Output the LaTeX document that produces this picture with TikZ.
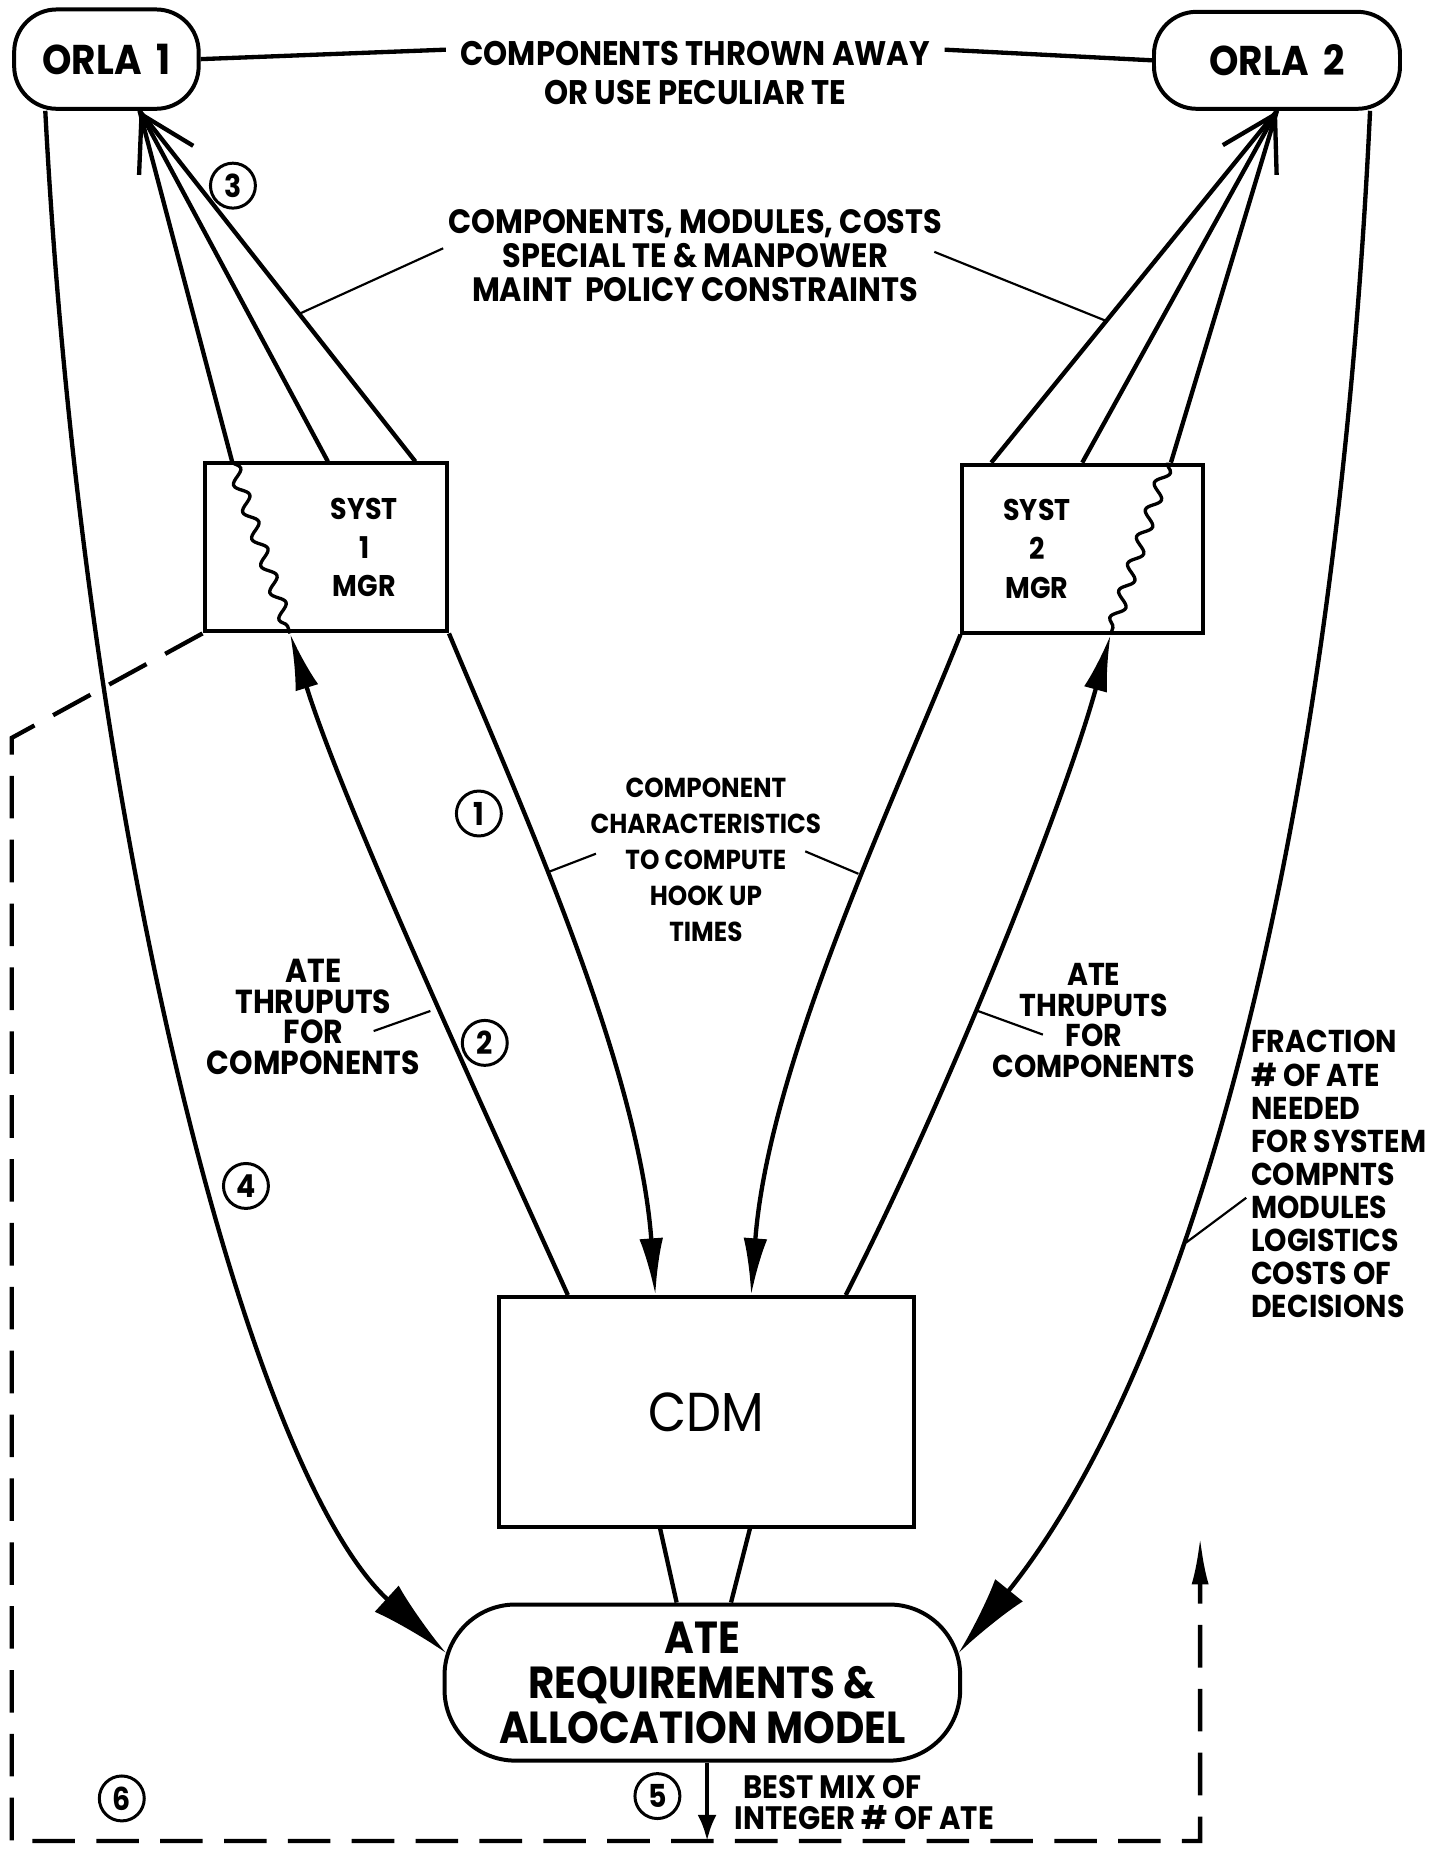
\documentclass[tikz,border=0pt]{standalone}
\usepackage{fontspec}
\setmainfont{Poppins}[FakeStretch=0.9]
\usetikzlibrary{arrows.meta,decorations.pathmorphing,calc}
\begin{document}
\begin{tikzpicture}[x=0.025cm,y=-0.025cm,
  conn/.style={line width=2.6pt},
  lead/.style={line width=1.3pt},
  boxs/.style={draw,line width=2.4pt,inner sep=0pt},
  num/.style={draw,circle,line width=1.8pt,minimum size=0.95cm,inner sep=0pt,font=\bfseries\fontsize{19}{19}\selectfont},
  lbl/.style={align=center,inner sep=0pt},
  ftip/.style={-{Latex[length=1.2cm,width=0.5cm]}},
  btip/.style={-{Latex[length=1.7cm,width=0.75cm]}},
  barb/.style={-{Straight Barb[length=1.1cm,width=1.3cm]}},
  wave/.style={line width=2pt,decorate,decoration={snake,amplitude=0.13cm,segment length=0.6cm}},
  dsh/.style={line width=2.6pt,dash pattern=on 0.9cm off 0.45cm}
]
\fill[white] (0,0) rectangle (1220,1568);
\useasboundingbox (0,0) rectangle (1220,1568);

% boxes
\node[boxs,rounded corners=0.9cm,minimum width=3.9cm,minimum height=2.1cm,font=\bfseries\fontsize{25}{25}\selectfont] (orla1) at (90,50) {ORLA\hspace{0.35em}1};
\node[boxs,rounded corners=0.9cm,minimum width=5.2cm,minimum height=2.05cm,font=\bfseries\fontsize{25}{25}\selectfont] (orla2) at (1080,51) {ORLA\hspace{0.35em}2};
\node[boxs,minimum width=5.125cm,minimum height=3.55cm] (syst1) at (275.5,463) {};
\node[lbl,font=\bfseries\fontsize{18}{23.4}\selectfont] (s1t) at (308,463) {SYST\\1\\MGR};
\node[boxs,minimum width=5.075cm,minimum height=3.55cm] (syst2) at (915.5,464) {};
\node[lbl,font=\bfseries\fontsize{18}{23.4}\selectfont] (s2t) at (877,464) {SYST\\2\\MGR};
\node[boxs,minimum width=8.775cm,minimum height=4.85cm,font=\fontsize{33}{33}\selectfont] (cdm) at (597.5,1194) {CDM};
\node[boxs,rounded corners=1.5cm,minimum width=10.9cm,minimum height=3.3cm,align=center,font=\bfseries\fontsize{27}{27}\selectfont] (ate) at (594,1423) {ATE\\REQUIREMENTS \&\\ALLOCATION MODEL};

% labels
\node[lbl,font=\bfseries\fontsize{20.5}{23.5}\selectfont] (t1a) at (588,45) {COMPONENTS THROWN AWAY};
\node[lbl,font=\bfseries\fontsize{20.5}{23.5}\selectfont] (t1b) at (588,78) {OR USE PECULIAR TE};
\node[lbl,font=\bfseries\fontsize{20.3}{20.6}\selectfont] (t2) at (588,216) {COMPONENTS, MODULES, COSTS\\SPECIAL TE \& MANPOWER\\MAINT\ \ POLICY CONSTRAINTS};
\node[lbl,font=\bfseries\fontsize{16.5}{21.7}\selectfont] (t3) at (597,727) {COMPONENT\\CHARACTERISTICS\\TO COMPUTE\\HOOK UP\\TIMES};
\node[lbl,font=\bfseries\fontsize{20}{18.3}\selectfont] (t4) at (265,860) {ATE\\THRUPUTS\\FOR\\COMPONENTS};
\node[lbl,font=\bfseries\fontsize{19}{18.3}\selectfont] (t5) at (925,863) {ATE\\THRUPUTS\\FOR\\COMPONENTS};
\node[lbl,align=left,anchor=west,font=\bfseries\fontsize{19}{19.9}\selectfont] (t6) at (1058,993) {FRACTION\\\# OF ATE\\NEEDED\\FOR SYSTEM\\COMPNTS\\MODULES\\LOGISTICS\\COSTS OF\\DECISIONS};
\node[lbl,font=\bfseries\fontsize{19.5}{19.5}\selectfont] (t7a) at (704,1511) {BEST MIX OF};
\node[lbl,font=\bfseries\fontsize{19.5}{19.5}\selectfont] (t7b) at (731,1537) {INTEGER \# OF ATE};

% numbers
\node[num] (n1) at (405,688) {1};
\node[num] (n2) at (410,882) {2};
\node[num] (n3) at (197,157) {3};
\node[num] (n4) at (208,1003) {4};
\node[num] (n5) at (556,1519) {5};
\node[num] (n6) at (103,1521) {6};

% helper coordinates
\coordinate (tip1) at ($(orla1.south)+(28,0)$);
\coordinate (tip2) at (orla2.south);
\coordinate (d1) at (10,624);
\coordinate (d2) at (10,1557);
\coordinate (d3) at (1015,1557);
\coordinate (d4) at (1015,1300);
\coordinate (a5) at (598,1557);
\coordinate (lc1) at (254,265);
\coordinate (lc2) at (937,272);
\coordinate (lc3) at (465,737);
\coordinate (lc4) at (726,739);
\coordinate (lc5) at (364,855);
\coordinate (lc6) at (827,855);
\coordinate (lc7) at (1003,1051);

% top connector
\draw[conn] (orla1.east) -- ($(t1a.west)+(-12,-3)$);
\draw[conn] ($(t1a.east)+(12,-3)$) -- (orla2.west);

% syst -> orla
\draw[conn] ($(syst1.north west)+(25,0)$) -- (tip1);
\draw[conn,barb] ($(syst1.north west)+(106,0)$) -- (tip1);
\draw[conn] ($(syst1.north west)+(180,0)$) -- (tip1);
\draw[conn] ($(syst2.north west)+(26,0)$) -- (tip2);
\draw[conn,barb] ($(syst2.north west)+(103,0)$) -- (tip2);
\draw[conn] ($(syst2.north west)+(178,0)$) -- (tip2);

% wavy
\draw[wave] ($(syst1.north west)+(25,0)$) -- ($(syst1.south west)+(74,0)$);
\draw[wave] ($(syst2.north west)+(175,0)$) -- ($(syst2.south west)+(127,0)$);

% long curves to ATE
\draw[conn,btip] ($(orla1.south west)+(28,0)$) .. controls (70,700) and (210,1245) .. ($(ate.west)+(3,-25)$);
\draw[conn,btip] ($(orla2.south east)+(-27,0)$) .. controls (1130,700) and (1010,1150) .. ($(ate.east)+(-3,-25)$);

% CDM links
\draw[conn,ftip] ($(cdm.north west)+(60,0)$) .. controls (410,940) and (290,680) .. ($(syst1.south west)+(74,0)$);
\draw[conn,ftip] (syst1.south east) .. controls (440,680) and (540,900) .. ($(cdm.north west)+(134,0)$);
\draw[conn,ftip] (syst2.south west) .. controls (755,680) and (650,900) .. ($(cdm.north west)+(215,0)$);
\draw[conn,ftip] ($(cdm.north west)+(295,0)$) .. controls (800,930) and (900,680) .. ($(syst2.south west)+(127,0)$);

% CDM to ATE
\draw[conn] ($(cdm.south west)+(138,0)$) -- ($(ate.north west)+(198,0)$);
\draw[conn] ($(cdm.south west)+(214,0)$) -- ($(ate.north west)+(244,0)$);

% output arrow
\draw[conn,-{Latex[length=0.55cm,width=0.4cm]}] ($(ate.south)+(4,0)$) -- (a5);

% dashed feedback
\draw[dsh,-{Latex[length=1.0cm,width=0.36cm]}] (syst1.south west) -- (d1) -- (d2) -- (d3) -- (d4);

% leaders
\draw[lead] ($(t2.west)+(-4,-6)$) -- (lc1);
\draw[lead] ($(t2.east)+(-7,-3)$) -- (lc2);
\draw[lead] ($(t3.center)+(-93,-5)$) -- (lc3);
\draw[lead] ($(t3.center)+(84,-7)$) -- (lc4);
\draw[lead] ($(t4.center)+(51,12)$) -- (lc5);
\draw[lead] ($(t5.center)+(-43,12)$) -- (lc6);
\draw[lead] ($(t6.west)+(-4,20)$) -- (lc7);
\end{tikzpicture}
\end{document}
